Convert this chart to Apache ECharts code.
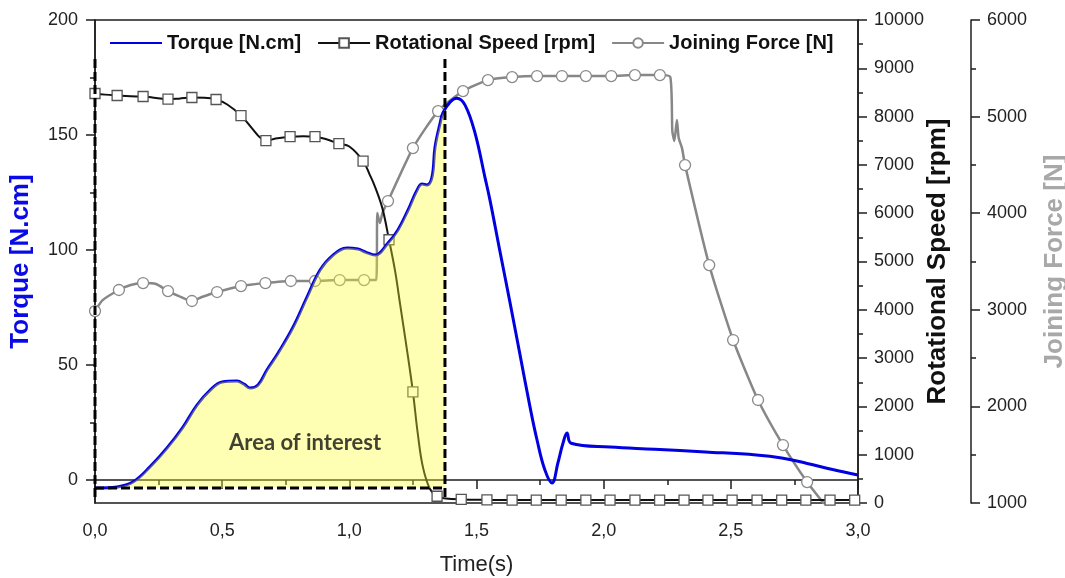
<!DOCTYPE html>
<html>
<head>
<meta charset="utf-8">
<script src="https://cdn.jsdelivr.net/npm/echarts@6/dist/echarts.min.js"></script>
<style>
  html, body { margin: 0; padding: 0; background: #fff; }
  #chart { width: 1065px; height: 578px; }
</style>
</head>
<body>
<div id="chart"></div>
<script>
// Torque curve [N.cm] over time [s]
const torqueTime = [0, 0.087, 0.149, 0.216, 0.283, 0.346, 0.401, 0.452, 0.5, 0.558, 0.586, 0.61, 0.641, 0.676, 0.72, 0.779, 0.834, 0.885, 0.936, 0.991, 1.034, 1.066, 1.101, 1.152, 1.191, 1.231, 1.266, 1.286, 1.305, 1.325, 1.337, 1.357, 1.368, 1.396, 1.423, 1.455, 1.494, 1.533, 1.553, 1.592, 1.632, 1.671, 1.71, 1.738, 1.769, 1.797, 1.82, 1.84, 1.856, 1.872, 2.025, 2.2, 2.4, 2.6, 2.7, 2.8, 2.9, 3.0];
const torqueValue = [-3.5, -3.0, -0.9, 5.7, 13.9, 23, 32.6, 39, 42.6, 43, 41.7, 40, 41.3, 47.8, 55.2, 66.5, 79.6, 91.3, 97.8, 100.9, 100.4, 99, 97.8, 103, 108.7, 117.4, 126, 128.7, 128.3, 131.7, 144.8, 155.2, 159.6, 164.3, 166, 163, 150.9, 131.7, 121.7, 99.5, 77, 54.5, 32, 17.4, 4.3, -1.3, 7.4, 16, 20.4, 16, 14.3, 13.4, 12.2, 10.9, 9.6, 7.2, 4.6, 2.2];

// Rotational speed [rpm]
const speedTime = [0, 0.04, 0.087, 0.14, 0.189, 0.24, 0.287, 0.33, 0.381, 0.43, 0.476, 0.52, 0.574, 0.62, 0.65, 0.672, 0.71, 0.767, 0.82, 0.865, 0.91, 0.959, 1.0, 1.054, 1.08, 1.101, 1.13, 1.156, 1.18, 1.2, 1.231, 1.25, 1.27, 1.29, 1.317, 1.345, 1.38, 1.44, 1.541, 1.64, 1.735, 1.833, 1.93, 2.025, 2.123, 2.22, 2.316, 2.41, 2.505, 2.603, 2.7, 2.795, 2.89, 2.987, 3.0];
const speedValue = [8478, 8455, 8437, 8420, 8416, 8385, 8360, 8372, 8395, 8390, 8354, 8250, 8021, 7740, 7560, 7502, 7545, 7585, 7595, 7585, 7530, 7439, 7380, 7080, 6800, 6546, 6100, 5450, 4800, 4100, 3013, 2300, 1400, 727, 291, 140, 95, 75, 65, 60, 60, 60, 60, 60, 60, 60, 60, 60, 60, 60, 60, 60, 60, 60, 60];
const speedMarkerTime = [0, 0.087, 0.189, 0.287, 0.381, 0.476, 0.574, 0.672, 0.767, 0.865, 0.959, 1.054, 1.156, 1.25, 1.345, 1.44, 1.541, 1.64, 1.735, 1.833, 1.93, 2.025, 2.123, 2.22, 2.316, 2.41, 2.505, 2.603, 2.7, 2.795, 2.89, 2.987];

// Joining force [N]
const forceTime = [0, 0.03, 0.094, 0.14, 0.189, 0.24, 0.287, 0.33, 0.381, 0.42, 0.48, 0.574, 0.67, 0.77, 0.865, 0.962, 1.058, 1.106, 1.11, 1.12, 1.13, 1.152, 1.25, 1.349, 1.447, 1.545, 1.64, 1.738, 1.836, 1.93, 2.03, 2.123, 2.221, 2.262, 2.27, 2.278, 2.288, 2.295, 2.308, 2.32, 2.415, 2.509, 2.607, 2.705, 2.8, 2.87];
const forceValue = [2987, 3100, 3205, 3256, 3277, 3267, 3194, 3142, 3091, 3132, 3184, 3246, 3277, 3298, 3298, 3308, 3308, 3308, 4001, 3898, 4001, 4126, 4674, 5057, 5264, 5378, 5409, 5420, 5420, 5420, 5420, 5430, 5430, 5410, 4850, 4747, 4964, 4778, 4674, 4498, 3463, 2687, 2066, 1600, 1217, 979];
const forceMarkerTime = [0, 0.094, 0.189, 0.287, 0.381, 0.48, 0.574, 0.67, 0.77, 0.865, 0.962, 1.058, 1.152, 1.25, 1.349, 1.447, 1.545, 1.64, 1.738, 1.836, 1.93, 2.03, 2.123, 2.221, 2.32, 2.415, 2.509, 2.607, 2.705, 2.8];

// Axis ticks
const torqueTicks = [0, 50, 100, 150, 200];
const torqueMinorTicks = [25, 75, 125, 175];

// Area of interest box (time [s], torque [N.cm])
const aoiStart = 0;
const aoiEnd = 1.376;
const aoiBase = -3.5;
const aoiTop = 183;
const aoiDashBottom = -8.5;
const aoiLabel = 'Area of interest';
const aoiLabelAt = [0.826, 16];

const names = {
  torque: 'Torque [N.cm]',
  speed: 'Rotational Speed [rpm]',
  force: 'Joining Force [N]'
};

function pairs(ts, vs) { return ts.map((t, i) => [t, vs[i]]); }
function withMarkers(ts, vs, marks) {
  return ts.map((t, i) => marks.includes(t) ? { value: [t, vs[i]] } : { value: [t, vs[i]], symbol: 'none' });
}
// torque trace inside the area of interest, closed at the right border
function areaTrace() {
  const out = [];
  for (let i = 0; i < torqueTime.length; i++) {
    if (torqueTime[i] <= aoiEnd) out.push([torqueTime[i], torqueValue[i]]);
    else {
      const t0 = torqueTime[i - 1], t1 = torqueTime[i];
      const v0 = torqueValue[i - 1], v1 = torqueValue[i];
      out.push([aoiEnd, v0 + (v1 - v0) * (aoiEnd - t0) / (t1 - t0)]);
      break;
    }
  }
  return out;
}

const font = "'Liberation Sans', Arial, sans-serif";
const axisColor = '#1e1e1e';
const dash = { color: '#000', width: 3, type: [9, 4] };
const plain = v => String(v);

const chart = echarts.init(document.getElementById('chart'), null, { renderer: 'canvas' });
chart.setOption({
  animation: false,
  backgroundColor: '#fff',
  textStyle: { fontFamily: font },
  grid: {
    left: 95, right: 207, top: 20, bottom: 75,
    outerBoundsMode: 'none', containLabel: false,
    show: true, borderColor: axisColor, borderWidth: 1.5, backgroundColor: 'transparent'
  },
  legend: {
    data: [
      { name: names.torque, itemStyle: { opacity: 0 } },
      names.speed,
      names.force
    ],
    left: 104, top: 28,
    itemWidth: 52, itemHeight: 12, itemGap: 16,
    textStyle: { fontFamily: font, fontSize: 20, fontWeight: 'bold', color: '#111' }
  },
  xAxis: {
    type: 'value', min: 0, max: 3, interval: 0.5,
    name: 'Time(s)', nameLocation: 'middle', nameGap: 51, nameMoveOverlap: false,
    nameTextStyle: { fontSize: 22, color: '#222', fontFamily: font },
    axisLine: { lineStyle: { color: axisColor, width: 1.5 } },
    axisTick: { length: 9, lineStyle: { color: axisColor, width: 1.5 } },
    minorTick: { show: true, splitNumber: 2, length: 5, lineStyle: { color: axisColor, width: 1.5 } },
    axisLabel: { fontSize: 18, color: '#222', margin: 19, formatter: v => v.toFixed(1).replace('.', ',') },
    splitLine: { show: false }
  },
  yAxis: [
    {
      type: 'value', min: -10, max: 200, position: 'left',
      name: names.torque, nameLocation: 'middle', nameRotate: 90, nameGap: 61, nameMoveOverlap: false,
      nameTextStyle: { fontSize: 26, fontWeight: 'bold', color: '#0a0ae6', fontFamily: font },
      axisLine: { show: true, lineStyle: { color: axisColor, width: 1.5 } },
      axisTick: { show: true, customValues: torqueTicks, length: 9, lineStyle: { color: axisColor, width: 1.5 } },
      axisLabel: { customValues: torqueTicks, fontSize: 18, color: '#222', margin: 17, formatter: plain },
      splitLine: { show: false }
    },
    {
      type: 'value', min: 0, max: 10000, interval: 1000, position: 'right',
      name: names.speed, nameLocation: 'middle', nameRotate: 90, nameGap: 67, nameMoveOverlap: false,
      nameTextStyle: { fontSize: 26, fontWeight: 'bold', color: '#111', fontFamily: font },
      axisLine: { show: true, lineStyle: { color: axisColor, width: 1.5 } },
      axisTick: { show: true, length: 9, lineStyle: { color: axisColor, width: 1.5 } },
      minorTick: { show: true, splitNumber: 2, length: 5, lineStyle: { color: axisColor, width: 1.5 } },
      axisLabel: { fontSize: 18, color: '#222', margin: 16, formatter: plain },
      splitLine: { show: false }
    },
    {
      type: 'value', min: 1000, max: 6000, interval: 1000, position: 'right', offset: 113,
      name: names.force, nameLocation: 'middle', nameRotate: 90, nameGap: 71, nameMoveOverlap: false,
      nameTextStyle: { fontSize: 26, fontWeight: 'bold', color: '#a8a8a8', fontFamily: font },
      axisLine: { show: true, lineStyle: { color: axisColor, width: 1.5 } },
      axisTick: { show: true, length: 9, lineStyle: { color: axisColor, width: 1.5 } },
      minorTick: { show: true, splitNumber: 2, length: 5, lineStyle: { color: axisColor, width: 1.5 } },
      axisLabel: { fontSize: 18, color: '#222', margin: 16, formatter: plain },
      splitLine: { show: false }
    },
    {
      // minor ticks of the torque axis
      type: 'value', min: -10, max: 200, position: 'left',
      axisLine: { show: false },
      axisTick: { show: true, customValues: torqueMinorTicks, length: 5, lineStyle: { color: axisColor, width: 1.5 } },
      axisLabel: { show: false },
      splitLine: { show: false }
    }
  ],
  series: [
    {
      name: names.force, type: 'line', yAxisIndex: 2, z: 2,
      data: withMarkers(forceTime, forceValue, forceMarkerTime),
      smooth: 0.2,
      symbol: 'circle', symbolSize: 11, showAllSymbol: true,
      lineStyle: { color: '#878787', width: 2.5 },
      itemStyle: { color: '#fff', borderColor: '#8a8a8a', borderWidth: 1.3 }
    },
    {
      name: names.speed, type: 'line', yAxisIndex: 1, z: 3,
      data: withMarkers(speedTime, speedValue, speedMarkerTime),
      smooth: 0.4,
      symbol: 'rect', symbolSize: 10, showAllSymbol: true,
      lineStyle: { color: '#111', width: 2 },
      itemStyle: { color: '#fff', borderColor: '#555', borderWidth: 1.3 }
    },
    {
      name: names.torque, type: 'line', yAxisIndex: 0, z: 4,
      data: pairs(torqueTime, torqueValue),
      smooth: 0.4, symbol: 'none',
      lineStyle: { color: '#0000e0', width: 3 },
      itemStyle: { color: '#0000e0' }
    },
    {
      // translucent highlight of the area of interest
      name: 'aoi-area', type: 'line', yAxisIndex: 0, z: 5, silent: true,
      data: areaTrace(),
      smooth: 0.4, symbol: 'none',
      lineStyle: { width: 0, color: 'transparent' },
      areaStyle: { origin: aoiBase, color: 'rgba(255,255,40,0.5)' }
    },
    {
      name: 'aoi-left', type: 'line', yAxisIndex: 0, z: 6, silent: true, clip: false,
      data: [[aoiStart, aoiTop], [aoiStart, aoiDashBottom]], symbol: 'none', lineStyle: dash
    },
    {
      name: 'aoi-right', type: 'line', yAxisIndex: 0, z: 6, silent: true, clip: false,
      data: [[aoiEnd, aoiTop], [aoiEnd, aoiDashBottom]], symbol: 'none', lineStyle: dash
    },
    {
      name: 'aoi-base', type: 'line', yAxisIndex: 0, z: 6, silent: true, clip: false,
      data: [[aoiStart, aoiBase], [aoiEnd, aoiBase]], symbol: 'none', lineStyle: dash
    },
    {
      name: 'aoi-label', type: 'scatter', yAxisIndex: 0, z: 7, silent: true,
      data: [aoiLabelAt], symbol: 'circle', symbolSize: 1,
      itemStyle: { color: 'transparent' },
      label: {
        show: true, position: 'inside', formatter: aoiLabel,
        fontFamily: "Lato, 'Open Sans', sans-serif", fontWeight: 'bold', fontSize: 22, color: '#111'
      }
    }
  ]
});
</script>
</body>
</html>
